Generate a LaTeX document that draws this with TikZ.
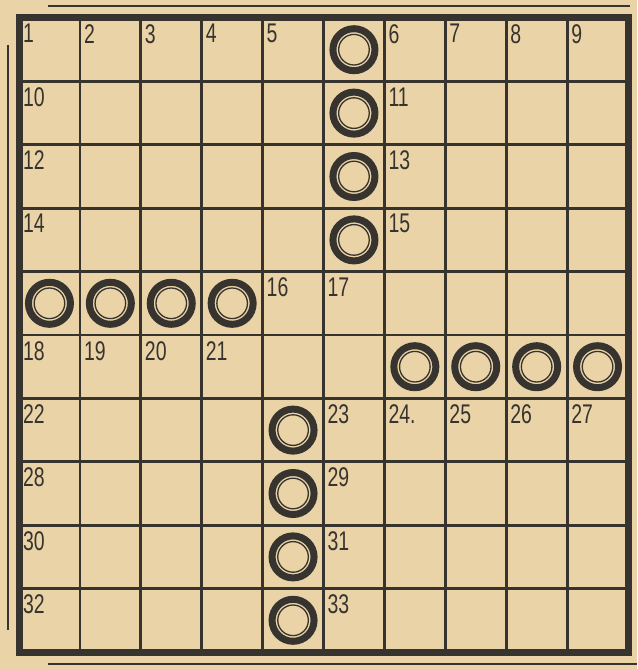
\documentclass[tikz,border=0pt]{standalone}
\usepackage{fontspec}
\setmainfont{Liberation Sans}
\definecolor{paper}{RGB}{233,211,167}
\definecolor{ink}{RGB}{55,51,47}
\begin{document}
\begin{tikzpicture}[x=1pt,y=-1pt,
  gridline/.style={draw=ink,line width=2.8pt},
  border/.style={draw=ink,line width=7pt},
  thinframe/.style={draw=ink,line width=1.2pt},
  ring/.style={draw=ink,line width=7pt},
  innerring/.style={draw=ink,line width=1.3pt},
  numlabel/.style={anchor=north west,inner sep=0pt,text=ink,font=\fontsize{27}{27}\selectfont,xscale=0.72}]
\useasboundingbox[fill=paper] (0,0) rectangle (637,669);
\def\cw{60.9}\def\rh{63.4}\def\xo{19}\def\yo{18}
% grid lines
\foreach \i in {1,...,9}{
  \draw[gridline] ({\xo+\i*\cw},\yo) -- ({\xo+\i*\cw},{\yo+10*\rh});
  \draw[gridline] (\xo,{\yo+\i*\rh}) -- ({\xo+10*\cw},{\yo+\i*\rh});
}
% outer border
\draw[border] (\xo,\yo) rectangle ({\xo+10*\cw},{\yo+10*\rh});
\draw[thinframe] (48,6) -- (630,6);
\draw[thinframe] (8,45) -- (8,630);
\draw[thinframe] (48,664) -- (637,664);
% circles
\foreach \r/\c [count=\k] in {0/5,1/5,2/5,3/5,4/0,4/1,4/2,4/3,5/6,5/7,5/8,5/9,6/4,7/4,8/4,9/4}{
  \coordinate (c\k) at ({\xo+(\c+0.5)*\cw},{\yo+(\r+0.5)*\rh});
  \draw[ring] (c\k) circle (21);
  \draw[innerring] (c\k) circle (15.3);
}
% numbers
\foreach \r/\c/\t [count=\k] in {0/0/1,0/1/2,0/2/3,0/3/4,0/4/5,0/6/6,0/7/7,0/8/8,0/9/9,
  1/0/10,1/6/11,2/0/12,2/6/13,3/0/14,3/6/15,4/4/16,4/5/17,
  5/0/18,5/1/19,5/2/20,5/3/21,
  6/0/22,6/5/23,6/6/24.,6/7/25,6/8/26,6/9/27,
  7/0/28,7/5/29,8/0/30,8/5/31,9/0/32,9/5/33}{
  \node[numlabel] (n\k) at ({\xo+\c*\cw+4},{\yo+\r*\rh+6}) {\t};
}
\end{tikzpicture}
\end{document}
